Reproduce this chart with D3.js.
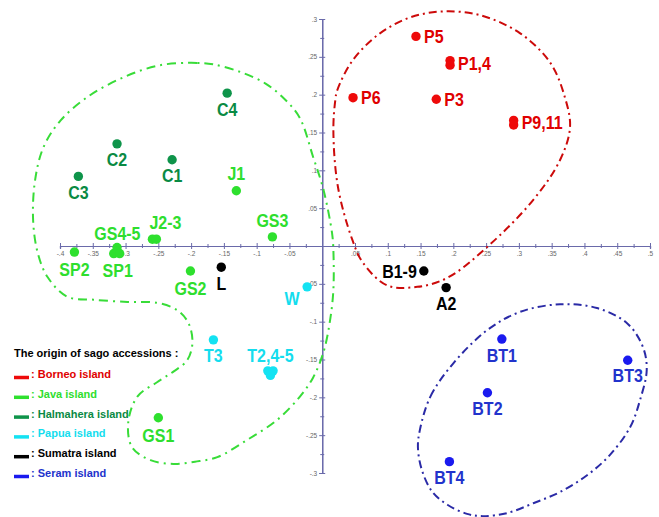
<!DOCTYPE html>
<html>
<head>
<meta charset="utf-8">
<script src="https://cdn.jsdelivr.net/npm/d3@7"></script>
<style>
  html, body { margin: 0; padding: 0; background: #fff; }
  svg { display: block; font-family: "Liberation Sans", Arial, sans-serif; }
</style>
</head>
<body>
<svg id="chart" width="659" height="517"></svg>
<script>
// ---------------- DATA ----------------
const xTickValues = [-0.4,-0.35,-0.3,-0.25,-0.2,-0.15,-0.1,-0.05,0.05,0.1,0.15,0.2,0.25,0.3,0.35,0.4,0.45,0.5];
const xTickLabels = ["-.4","-.35","-.3","-.25","-.2","-.15","-.1","-.05",".05",".1",".15",".2",".25",".3",".35",".4",".45",".5"];
const yTickValues = [-0.3,-0.25,-0.2,-0.15,-0.1,-0.05,0.05,0.1,0.15,0.2,0.25,0.3];
const yTickLabels = ["-.3","-.25","-.2","-.15","-.1","-.05",".05",".1",".15",".2",".25",".3"];

const islands = ["Borneo island","Java island","Halmahera island","Papua island","Sumatra island","Seram island"];

const borneoLabels = ["P5","P1,4","P1,4","P6","P3","P9,11","P9,11"];
const borneoX = [0.143, 0.195, 0.195, 0.047, 0.174, 0.292, 0.292];
const borneoY = [0.277, 0.245, 0.239, 0.196, 0.194, 0.166, 0.160];

const javaLabels = ["J1","GS3","J2-3","J2-3","GS4-5","GS4-5","SP1","SP2","GS2","GS1"];
const javaX = [-0.131, -0.076, -0.259, -0.253, -0.313, -0.318, -0.309, -0.378, -0.201, -0.250];
const javaY = [ 0.073,  0.012,  0.009,  0.009, -0.002, -0.010, -0.010, -0.008, -0.033, -0.227];

const halmaheraLabels = ["C4","C2","C1","C3"];
const halmaheraX = [-0.145, -0.313, -0.229, -0.372];
const halmaheraY = [ 0.202,  0.135,  0.114,  0.092];

const papuaLabels = ["W","T3","T2,4-5","T2,4-5","T2,4-5"];
const papuaX = [-0.023, -0.166, -0.083, -0.075, -0.079];
const papuaY = [-0.054, -0.124, -0.165, -0.165, -0.171];

const sumatraLabels = ["L","B1-9","A2"];
const sumatraX = [-0.154, 0.155, 0.189];
const sumatraY = [-0.028, -0.033, -0.055];

const seramLabels = ["BT1","BT3","BT2","BT4"];
const seramX = [0.274, 0.466, 0.252, 0.194];
const seramY = [-0.123, -0.151, -0.194, -0.285];

// enclosing outlines (data coordinates)
const borneoHullX = [0.020,0.017,0.024,0.046,0.062,0.099,0.145,0.191,0.252,0.322,0.363,0.378,0.370,0.348,0.302,0.241,0.184,0.134,0.088,0.047,0.023];
const borneoHullY = [0.193,0.153,0.078,0.008,-0.022,-0.052,-0.054,-0.042,-0.001,0.061,0.114,0.157,0.197,0.242,0.281,0.305,0.310,0.302,0.281,0.246,0.206];

const javaHullX = [-0.166,-0.191,-0.247,-0.303,-0.358,-0.399,-0.425,-0.438,-0.441,-0.434,-0.419,-0.389,-0.349,-0.297,-0.252,-0.221,-0.204,-0.198,-0.206,-0.227,-0.252,-0.282,-0.296,-0.290,-0.262,-0.227,-0.194,-0.160,-0.114,-0.069,-0.034,-0.014,0.002,0.012,0.017,0.017,0.015,0.002,-0.014,-0.034,-0.056,-0.087,-0.125];
const javaHullY = [0.240,0.242,0.239,0.223,0.197,0.166,0.131,0.087,0.034,-0.009,-0.041,-0.067,-0.071,-0.074,-0.075,-0.085,-0.102,-0.128,-0.151,-0.166,-0.180,-0.199,-0.234,-0.266,-0.283,-0.288,-0.285,-0.279,-0.256,-0.230,-0.199,-0.174,-0.140,-0.098,-0.058,-0.005,0.017,0.074,0.118,0.169,0.193,0.215,0.230];

const seramHullX = [0.149,0.165,0.200,0.252,0.302,0.363,0.419,0.465,0.489,0.495,0.485,0.470,0.439,0.404,0.363,0.322,0.282,0.245,0.221,0.191,0.168,0.152,0.146];
const seramHullY = [-0.243,-0.199,-0.155,-0.111,-0.087,-0.077,-0.082,-0.102,-0.133,-0.164,-0.203,-0.239,-0.276,-0.303,-0.325,-0.340,-0.353,-0.357,-0.354,-0.342,-0.325,-0.296,-0.266];

// ---------------- LAYOUT / STYLE ----------------
const svg = d3.select("#chart");
const x = d3.scaleLinear().domain([-0.4, 0.5]).range([60, 650]);
const y = d3.scaleLinear().domain([-0.3, 0.3]).range([473, 19]);

const pointColor = {
  "Borneo island": "#ee0a0a",
  "Java island": "#2ee02e",
  "Halmahera island": "#0e944a",
  "Papua island": "#14e2f2",
  "Sumatra island": "#000000",
  "Seram island": "#1a1aef"
};
const textColor = {
  "Borneo island": "#e00000",
  "Java island": "#2ede2e",
  "Halmahera island": "#0a8a44",
  "Papua island": "#14ddee",
  "Sumatra island": "#000000",
  "Seram island": "#2233cc"
};

// ---------------- AXES ----------------
const axisColor = "#6a6aaa";
const minorX = d3.range(-0.375, 0.5, 0.05).map(v => +v.toFixed(3));
const minorY = d3.range(-0.275, 0.3, 0.05).map(v => +v.toFixed(3));

function styleAxis(g) {
  g.select(".domain").attr("stroke", axisColor).attr("stroke-width", 1.2);
  g.selectAll(".tick line").attr("stroke", axisColor).attr("stroke-width", 1);
  g.selectAll(".tick text").attr("fill", "#666").attr("font-size", "6.5px");
}

const gx = svg.append("g").attr("transform", `translate(0,${y(0)})`)
  .call(d3.axisBottom(x).tickValues(xTickValues).tickFormat((d, i) => xTickLabels[i]).tickSizeOuter(0).tickSize(3))
  .call(styleAxis);
gx.selectAll(".tick line").attr("y1", -3).attr("y2", 3);
gx.selectAll(".tick text").attr("y", 5);
const gxm = svg.append("g").attr("transform", `translate(0,${y(0)})`)
  .call(d3.axisBottom(x).tickValues(minorX).tickFormat("").tickSizeOuter(0).tickSize(2))
  .call(styleAxis);
gxm.selectAll(".tick line").attr("y1", -2).attr("y2", 2);

const gy = svg.append("g").attr("transform", `translate(${x(0)},0)`)
  .call(d3.axisLeft(y).tickValues(yTickValues).tickFormat((d, i) => yTickLabels[i]).tickSizeOuter(0).tickSize(3))
  .call(styleAxis);
gy.selectAll(".tick line").attr("x1", -3).attr("x2", 3);
gy.selectAll(".tick text").attr("x", -5);
const gym = svg.append("g").attr("transform", `translate(${x(0)},0)`)
  .call(d3.axisLeft(y).tickValues(minorY).tickFormat("").tickSizeOuter(0).tickSize(2))
  .call(styleAxis);
gym.selectAll(".tick line").attr("x1", -2).attr("x2", 2);

// ---------------- OUTLINES ----------------
const hullLine = d3.line().x(d => x(d[0])).y(d => y(d[1])).curve(d3.curveCatmullRomClosed.alpha(0.5));
function drawHull(xs, ys, color, dash) {
  svg.append("path")
    .datum(xs.map((v, i) => [v, ys[i]]))
    .attr("d", hullLine)
    .attr("fill", "none")
    .attr("stroke", color)
    .attr("stroke-width", 2)
    .attr("stroke-dasharray", dash);
}
drawHull(borneoHullX, borneoHullY, "#cc0a0a", "8,4,2,4");
drawHull(javaHullX, javaHullY, "#38dc38", "9,5,2,5");
drawHull(seramHullX, seramHullY, "#2a2aa6", "8,4,2,4");

// ---------------- POINTS & LABELS ----------------
const groups = [
  { island: "Borneo island", labels: borneoLabels, xs: borneoX, ys: borneoY },
  { island: "Java island", labels: javaLabels, xs: javaX, ys: javaY },
  { island: "Halmahera island", labels: halmaheraLabels, xs: halmaheraX, ys: halmaheraY },
  { island: "Papua island", labels: papuaLabels, xs: papuaX, ys: papuaY },
  { island: "Sumatra island", labels: sumatraLabels, xs: sumatraX, ys: sumatraY },
  { island: "Seram island", labels: seramLabels, xs: seramX, ys: seramY }
];

const place = {
  right: { dx: 8, dy: 0, anchor: "start" },
  left: { dx: -7, dy: 0, anchor: "end" },
  above: { dx: 0, dy: -17, anchor: "middle" },
  below: { dx: 0, dy: 16, anchor: "middle" }
};
const labelPlace = {
  "P5": ["right"], "P1,4": ["right"], "P6": ["right"], "P3": ["right"], "P9,11": ["right"],
  "B1-9": ["left"], "A2": ["below"], "L": ["below"],
  "C4": ["below"], "C2": ["below"], "C1": ["below"], "C3": ["below"],
  "J1": ["above"], "GS3": ["above"], "J2-3": ["above", 11, 0], "GS4-5": ["above", 2, 0],
  "SP1": ["below", -2, 1], "SP2": ["below", 0, 1], "GS2": ["below", 0, 1], "GS1": ["below", 0, 2],
  "W": ["below", -15, -4], "T3": ["below"], "T2,4-5": ["above"],
  "BT1": ["below"], "BT3": ["below", 0, -1], "BT2": ["below"], "BT4": ["below"]
};

groups.forEach(g => {
  const pts = g.xs.map((v, i) => ({ x: v, y: g.ys[i], label: g.labels[i] }));
  svg.append("g").selectAll("circle").data(pts).join("circle")
    .attr("cx", d => x(d.x)).attr("cy", d => y(d.y)).attr("r", 4.7)
    .attr("fill", pointColor[g.island]);

  d3.groups(pts, d => d.label).forEach(([lab, members]) => {
    const mx = d3.mean(members, d => x(d.x));
    const my = d3.mean(members, d => y(d.y));
    const p = labelPlace[lab] || ["below"];
    const base = place[p[0]];
    const tx = mx + base.dx + (p[1] || 0);
    const ty = my + base.dy + (p[2] || 0);
    svg.append("text")
      .attr("transform", `translate(${tx},${ty}) scale(1,1.15)`)
      .attr("dy", "0.36em")
      .attr("text-anchor", base.anchor)
      .attr("font-size", "16px")
      .attr("font-weight", "bold")
      .attr("fill", textColor[g.island])
      .text(lab);
  });
});

// ---------------- LEGEND ----------------
const legend = svg.append("g");
legend.append("text")
  .attr("x", 14).attr("y", 357)
  .attr("font-size", "11px").attr("font-weight", "bold").attr("fill", "#000")
  .text("The origin of sago accessions :");
islands.forEach((isl, i) => {
  const by = 378 + i * 19.8;
  legend.append("line")
    .attr("x1", 14).attr("x2", 29).attr("y1", by - 0.5).attr("y2", by - 0.5)
    .attr("stroke", pointColor[isl]).attr("stroke-width", 3.5);
  legend.append("text")
    .attr("x", 31).attr("y", by)
    .attr("font-size", "11px").attr("font-weight", "bold")
    .attr("fill", textColor[isl])
    .text(": " + isl);
});
</script>
</body>
</html>
